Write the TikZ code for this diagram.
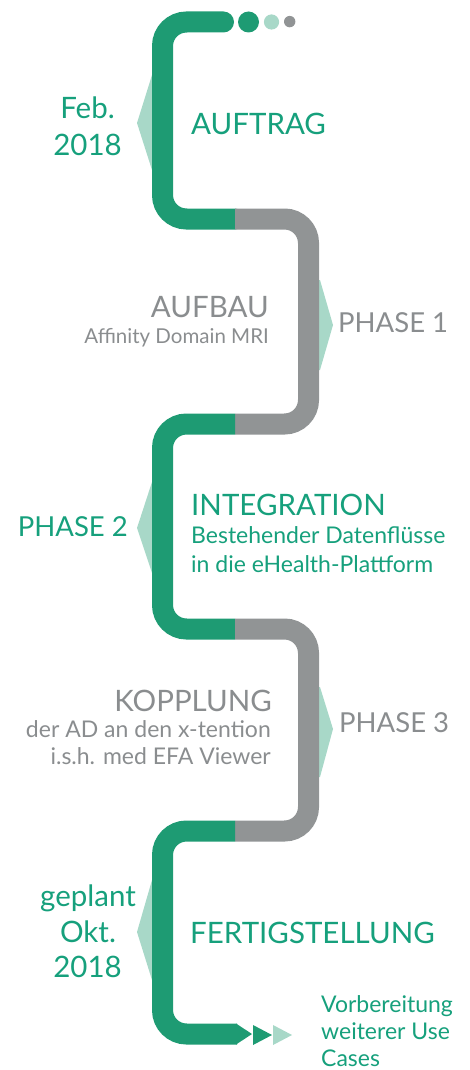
\documentclass[tikz,border=0pt]{standalone}
\usepackage{fontspec}
\setmainfont{Lato}
\usepackage{tikz}
\usetikzlibrary{positioning}
\definecolor{tgreen}{RGB}{30, 155, 115}
\definecolor{tlight}{RGB}{168, 216, 200}
\definecolor{tgray}{RGB}{145, 148, 149}
\definecolor{xgreen}{RGB}{22, 160, 124}
\definecolor{xgray}{RGB}{138, 141, 143}
\tikzset{track/.style = {line width = 21pt, rounded corners = 24pt},
  pointer/.style = {fill = tlight, draw = none},
  big/.style = {font = \fontsize{29.5}{32}\selectfont, inner sep = 0},
  phase/.style = {font = \fontsize{27.5}{30}\selectfont, inner sep = 0},
  small/.style = {font = \fontsize{23}{25}\selectfont, inner sep = 0},
  note/.style = {font = \fontsize{23}{26}\selectfont, inner sep = 0}}

\begin{document}
\begin{tikzpicture}[x = 1pt, y = -1pt]
    \useasboundingbox (0, 0) rectangle (470, 1070);

    \fill [pointer] (160, 75) -- (152, 75) -- (137, 123) -- (152, 170) -- (160, 170) -- cycle;
    \fill [pointer] (310, 280) -- (320, 280) -- (333, 325) -- (320, 370) -- (310, 370) -- cycle;
    \fill [pointer] (160, 482) -- (152, 482) -- (137, 528) -- (152, 573) -- (160, 573) -- cycle;
    \fill [pointer] (310, 687) -- (320, 687) -- (333, 729) -- (320, 777) -- (310, 777) -- cycle;
    \fill [pointer] (160, 880) -- (152, 880) -- (137, 932) -- (152, 980) -- (160, 980) -- cycle;

    \draw [track, tgreen, line cap = round] (223.5, 22) -- (162.5, 22) -- (162.5, 219) -- (235, 219);
    \draw [track, tgray] (235, 219) -- (308.5, 219) -- (308.5, 424) -- (235, 424);
    \draw [track, tgreen] (235, 424) -- (162.5, 424) -- (162.5, 629) -- (235, 629);
    \draw [track, tgray] (235, 629) -- (308.5, 629) -- (308.5, 831) -- (235, 831);
    \draw [track, tgreen] (235, 831) -- (162.5, 831) -- (162.5, 1034) -- (237, 1034);
    \fill [tgreen] (236, 1023.5) -- (252, 1034) -- (236, 1044.5) -- cycle;
    \fill [tgreen] (253, 1025) -- (272, 1035) -- (253, 1045) -- cycle;
    \fill [tlight] (273, 1025) -- (292, 1035) -- (273, 1045) -- cycle;

    \fill [tgreen] (248.5, 22) circle [radius = 10.5];
    \fill [tlight] (271.5, 22) circle [radius = 7.6];
    \fill [tgray] (289.7, 21.6) circle [radius = 5.7];

    \node [big, xgreen, anchor = base] (feb) at (87.5, 119) {Feb.};
    \node [big, xgreen, anchor = base] (febyear) at (87.5, 155) {2018};
    \node [big, xgreen, anchor = base west] (auftrag) at (191, 135) {AUFTRAG};

    \node [big, xgray, anchor = base east] (aufbau) at (269, 317) {AUFBAU};
    \node [small, xgray, anchor = base east, font = \fontsize{20.5}{23}\selectfont] (aufbaunote) at (269, 343) {Affinity Domain MRI};
    \node [phase, xgray, anchor = base west] (phaseone) at (338, 332) {PHASE 1};

    \node [phase, xgreen, anchor = base east] (phasetwo) at (128, 536) {PHASE 2};
    \node [big, xgreen, anchor = base west] (integration) at (191, 515) {INTEGRATION};
    \node [small, xgreen, anchor = base west] (intone) at (191, 543) {Bestehender Datenflüsse};
    \node [small, xgreen, anchor = base west] (inttwo) at (191, 572) {in die eHealth-Plattform};

    \node [big, xgray, anchor = base east] (kopplung) at (272, 711) {KOPPLUNG};
    \node [small, xgray, anchor = base east] (kopone) at (271, 737) {der AD an den x-tention};
    \node [small, xgray, anchor = base east] (koptwo) at (271, 764) {i.s.h. med EFA Viewer};
    \node [phase, xgray, anchor = base west] (phasethree) at (339, 732) {PHASE 3};

    \node [big, xgreen, anchor = base] (geplant) at (88, 906) {geplant};
    \node [big, xgreen, anchor = base] (okt) at (88, 942) {Okt.};
    \node [big, xgreen, anchor = base] (oktyear) at (87.5, 977) {2018};
    \node [big, xgreen, anchor = base west] (fertig) at (190, 943) {FERTIGSTELLUNG};

    \node [note, xgreen, anchor = base west] (vorb) at (321, 1012) {Vorbereitung};
    \node [note, xgreen, anchor = base west] (weiter) at (321, 1039) {weiterer Use};
    \node [note, xgreen, anchor = base west] (cases) at (321, 1066) {Cases};
\end{tikzpicture}
\end{document}
